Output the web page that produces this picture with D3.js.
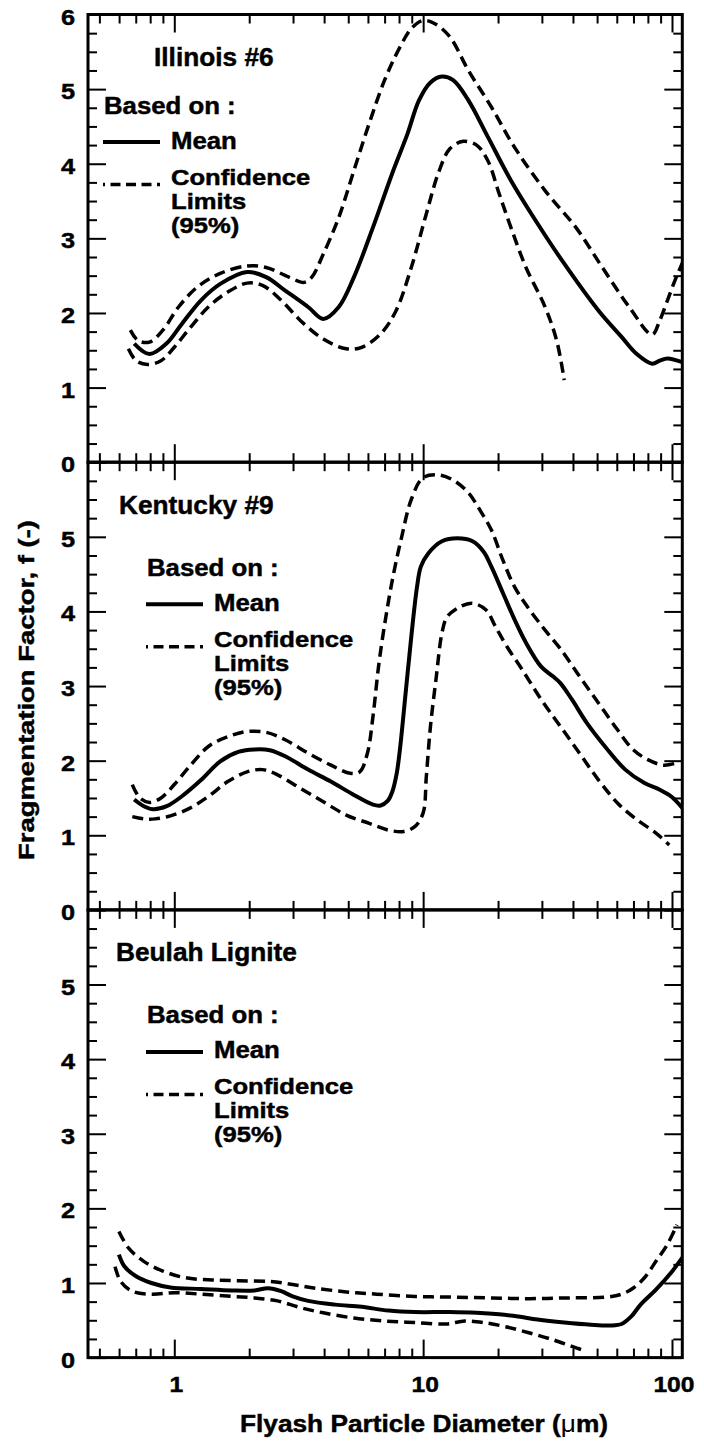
<!DOCTYPE html>
<html>
<head>
<meta charset="utf-8">
<script src="https://cdn.jsdelivr.net/npm/d3@7"></script>
<style>
  html, body { margin: 0; padding: 0; background: #fff; }
  svg { display: block; }
  text { font-family: "Liberation Sans", Arial, Helvetica, sans-serif; font-weight: bold;
         fill: #000; stroke: #000; stroke-width: 0.45px; }
</style>
</head>
<body>
<svg id="chart" width="704" height="1443"></svg>
<script>
// ---- Data: fragmentation factor f vs flyash particle diameter (µm) ----
const panelNames = ["Illinois #6", "Kentucky #9", "Beulah Lignite"];

const illinoisMean = [
  [0.69,1.59],[0.795,1.45],[0.93,1.59],[1.07,1.85],[1.28,2.17],[1.53,2.39],[1.96,2.55],[2.34,2.48],
  [2.79,2.30],[3.45,2.08],[3.97,1.92],[4.58,2.08],[5.27,2.48],[6.29,3.15],[7.51,3.87],[8.65,4.40],
  [9.62,4.85],[10.7,5.09],[11.9,5.17],[13.2,5.12],[15.2,4.85],[18.2,4.36],[22.5,3.78],[27.8,3.28],
  [36.9,2.66],[50.7,2.03],[62.7,1.68],[72.2,1.45],[83.2,1.32],[89.3,1.36],[95.9,1.39],[110,1.34]
];
const illinoisUpper = [
  [0.666,1.77],[0.715,1.63],[0.795,1.61],[0.90,1.77],[1.04,2.08],[1.24,2.35],[1.53,2.53],[1.96,2.63],
  [2.34,2.61],[2.89,2.48],[3.33,2.41],[3.57,2.48],[3.97,2.79],[4.58,3.28],[5.27,3.91],[6.07,4.54],
  [7.0,5.12],[8.06,5.56],[8.96,5.81],[9.97,5.92],[11.1,5.88],[12.8,5.70],[15.2,5.25],[18.8,4.76],
  [23.3,4.22],[30.9,3.64],[41.0,3.15],[52.5,2.61],[67.3,2.08],[83.2,1.71],[89.3,1.90],[95.9,2.17],
  [102.9,2.44],[110.4,2.68]
];
const illinoisLower = [
  [0.654,1.52],[0.702,1.36],[0.781,1.31],[0.884,1.36],[1.0,1.54],[1.15,1.79],[1.37,2.08],[1.64,2.28],
  [1.96,2.40],[2.26,2.37],[2.69,2.17],[3.21,1.90],[3.97,1.65],[4.91,1.52],[5.66,1.54],[6.75,1.72],
  [7.78,2.03],[8.96,2.61],[10.3,3.33],[11.5,3.87],[12.8,4.20],[14.5,4.30],[16.4,4.25],[18.2,4.04],
  [20.2,3.60],[22.5,3.15],[25.9,2.61],[30.9,2.08],[34.4,1.63],[36.9,1.10]
];

const kentuckyMean = [
  [0.69,1.48],[0.754,1.39],[0.823,1.35],[0.932,1.39],[1.07,1.52],[1.28,1.74],[1.53,1.99],[1.82,2.12],
  [2.10,2.15],[2.42,2.14],[2.79,2.06],[3.45,1.88],[4.26,1.72],[5.27,1.54],[6.29,1.41],[6.75,1.40],
  [7.2,1.46],[7.51,1.58],[7.83,1.83],[8.06,2.14],[8.5,2.90],[8.96,3.66],[9.45,4.33],[9.79,4.60],
  [10.5,4.78],[11.9,4.94],[13.7,4.98],[15.8,4.94],[17.5,4.80],[18.8,4.60],[20.9,4.25],[23.3,3.89],
  [25.9,3.58],[29.8,3.26],[33.2,3.13],[35.6,3.04],[39.6,2.82],[45.6,2.50],[54.4,2.17],[64.9,1.88],
  [77.5,1.70],[89.3,1.61],[99.3,1.52],[110.4,1.36]
];
const kentuckyUpper = [
  [0.678,1.68],[0.727,1.50],[0.795,1.44],[0.884,1.50],[1.0,1.68],[1.15,1.92],[1.37,2.19],[1.64,2.32],
  [1.96,2.39],[2.34,2.38],[2.79,2.28],[3.45,2.10],[4.26,1.94],[5.09,1.83],[5.56,1.85],[5.97,2.10],
  [6.29,2.60],[6.64,3.30],[7.1,3.95],[7.6,4.50],[8.2,5.00],[8.96,5.50],[9.97,5.79],
  [11.5,5.83],[13.2,5.76],[15.2,5.59],[16.9,5.36],[18.8,5.09],[20.9,4.69],[23.3,4.33],[26.8,4.02],
  [30.9,3.75],[35.6,3.50],[42.5,3.13],[50.7,2.77],[60.5,2.41],[69.7,2.15],[80.3,2.01],[92.5,1.94],
  [104.7,1.97]
];
const kentuckyLower = [
  [0.678,1.25],[0.754,1.22],[0.838,1.22],[0.965,1.26],[1.15,1.36],[1.37,1.52],[1.64,1.72],[1.96,1.85],
  [2.26,1.88],[2.60,1.81],[3.21,1.63],[3.97,1.45],[4.91,1.27],[6.07,1.16],[7.25,1.07],[8.35,1.05],
  [9.28,1.12],[10.0,1.30],[10.3,1.79],[10.7,2.46],[11.3,3.13],[11.9,3.71],[12.5,3.93],[14.2,4.07],
  [15.8,4.11],[17.9,4.02],[19.5,3.80],[21.7,3.53],[25.0,3.22],[29.8,2.82],[35.6,2.46],[42.5,2.10],
  [50.7,1.74],[60.5,1.43],[72.2,1.21],[86.2,1.03],[97.5,0.87]
];

const beulahMean = [
  [0.599,1.38],[0.631,1.22],[0.702,1.09],[0.809,1.00],[0.965,0.94],[1.28,0.92],[1.70,0.90],[2.10,0.90],
  [2.38,0.93],[2.69,0.89],[2.99,0.82],[3.45,0.76],[4.42,0.71],[5.66,0.68],[7.25,0.63],[9.28,0.61],
  [12.8,0.61],[16.4,0.60],[20.2,0.58],[24.1,0.55],[28.8,0.51],[36.9,0.47],[47.2,0.44],[56.4,0.43],
  [62.7,0.45],[68.5,0.55],[74.8,0.71],[86.2,0.91],[99.3,1.14],[110,1.34]
];
const beulahUpper = [
  [0.599,1.69],[0.654,1.47],[0.754,1.29],[0.899,1.16],[1.11,1.07],[1.42,1.04],[1.82,1.03],[2.42,1.02],
  [2.99,0.98],[3.70,0.93],[4.91,0.88],[6.52,0.85],[9.28,0.82],[13.2,0.81],[18.8,0.80],[26.8,0.79],
  [38.2,0.80],[54.4,0.81],[62.7,0.85],[69.7,0.93],[77.5,1.07],[86.2,1.29],[95.9,1.52],[104.7,1.78]
];
const beulahLower = [
  [0.578,1.22],[0.609,1.02],[0.678,0.89],[0.809,0.85],[1.0,0.87],[1.28,0.85],[1.70,0.82],[2.10,0.80],
  [2.60,0.76],[3.21,0.67],[3.97,0.60],[5.27,0.53],[7.0,0.49],[9.28,0.47],[12.3,0.45],[14.7,0.49],
  [17.5,0.47],[21.7,0.41],[26.8,0.33],[33.2,0.24],[39.6,0.15],[44.8,0.09]
];

const seriesByPanel = [
  { mean: illinoisMean, upper: illinoisUpper, lower: illinoisLower },
  { mean: kentuckyMean, upper: kentuckyUpper, lower: kentuckyLower },
  { mean: beulahMean,   upper: beulahUpper,   lower: beulahLower }
];

// Axis ticks
const xMajorTicks = [1, 10, 100];
const xMinorTicks = [0.5,0.6,0.7,0.8,0.9, 2,3,4,5,6,7,8,9, 20,30,40,50,60,70,80,90];
const xTickLabels = ["1", "10", "100"];
const yMajorTicks = [0, 1, 2, 3, 4, 5, 6];
const yMinorTicks = d3.range(0, 6, 0.25).filter(v => v % 1 !== 0);
const yLabelsTop = [0, 1, 2, 3, 4, 5, 6];
const yLabelsOther = [0, 1, 2, 3, 4, 5];

const legendLines = ["Confidence", "Limits", "(95%)"];

// ---- Layout ----
const plotLeft = 88, plotRight = 682.3, plotTop = 14.5, panelH = 447.7;
const svg = d3.select("#chart");

const x = d3.scaleLog().domain([0.45, 110]).range([plotLeft, plotRight]);

// per-panel title / legend placement (px offsets from panel top)
const panelLayout = [
  { tx: 154, tBase: 51,   lx: 103, by: 99 },
  { tx: 119, tBase: 52,   lx: 146, by: 113.5 },
  { tx: 116, tBase: 51.5, lx: 146, by: 113.5 }
];

// horizontal widening of the bold face, as in the printed figure
function widen(sel, k) {
  sel.each(function () {
    const w = this.getComputedTextLength();
    d3.select(this).attr("textLength", w * k).attr("lengthAdjust", "spacingAndGlyphs");
  });
}

const line = d3.line().curve(d3.curveCatmullRom.alpha(0.5));

panelNames.forEach((name, i) => {
  const py = plotTop + i * panelH;
  const y = d3.scaleLinear().domain([0, 6]).range([py + panelH, py]);
  const g = svg.append("g");

  // clip for the curves
  const clipId = "clip" + i;
  svg.append("clipPath").attr("id", clipId)
    .append("rect").attr("x", plotLeft).attr("y", py)
    .attr("width", plotRight - plotLeft).attr("height", panelH);

  // inward ticks on all four sides
  const tickGroups = [
    [d3.axisTop(x), `translate(0,${py})`, xMajorTicks, xMinorTicks],
    [d3.axisBottom(x), `translate(0,${py + panelH})`, xMajorTicks, xMinorTicks],
    [d3.axisLeft(y), `translate(${plotLeft},0)`, yMajorTicks, yMinorTicks],
    [d3.axisRight(y), `translate(${plotRight},0)`, yMajorTicks, yMinorTicks]
  ];
  tickGroups.forEach(([axisFn, tr, major, minor]) => {
    [[major, -18], [minor, -9]].forEach(([vals, size]) => {
      const ax = axisFn.tickValues(vals).tickSizeInner(size).tickSizeOuter(0).tickFormat("");
      const ag = g.append("g").attr("transform", tr).call(ax);
      ag.select(".domain").remove();
      ag.selectAll(".tick line").attr("stroke", "#000").attr("stroke-width", 2);
    });
  });

  // frame
  g.append("rect")
    .attr("x", plotLeft).attr("y", py).attr("width", plotRight - plotLeft).attr("height", panelH)
    .attr("fill", "none").attr("stroke", "#000").attr("stroke-width", 3);

  // y tick labels
  const yl = g.selectAll(".ylab").data(i === 0 ? yLabelsTop : yLabelsOther).enter().append("text")
    .attr("class", "ylab")
    .attr("x", 75).attr("y", d => y(d) + 10)
    .attr("text-anchor", "end").attr("font-size", 22)
    .text(d => d);
  widen(yl, 1.15);

  // curves
  const s = seriesByPanel[i];
  const toPx = pts => pts.map(p => [x(p[0]), y(p[1])]);
  const cg = g.append("g").attr("clip-path", `url(#${clipId})`);
  [s.upper, s.lower].forEach(pts => {
    cg.append("path").attr("d", line(toPx(pts)))
      .attr("fill", "none").attr("stroke", "#000").attr("stroke-width", 3.5)
      .attr("stroke-dasharray", "11,6").attr("stroke-linecap", "butt");
  });
  cg.append("path").attr("d", line(toPx(s.mean)))
    .attr("fill", "none").attr("stroke", "#000").attr("stroke-width", 4)
    .attr("stroke-linejoin", "round");

  // panel title and legend
  const L = panelLayout[i];
  const title = g.append("text").attr("x", L.tx).attr("y", py + L.tBase)
    .attr("font-size", 25).text(name);
  widen(title, 1.05);

  const based = g.append("text").attr("x", L.lx + 1).attr("y", py + L.by)
    .attr("font-size", 23).text("Based on :");
  widen(based, 1.12);

  g.append("line")
    .attr("x1", L.lx).attr("x2", L.lx + 57)
    .attr("y1", py + L.by + 28.5).attr("y2", py + L.by + 28.5)
    .attr("stroke", "#000").attr("stroke-width", 4);
  const meanTxt = g.append("text").attr("x", L.lx + 68).attr("y", py + L.by + 35)
    .attr("font-size", 23).text("Mean");
  widen(meanTxt, 1.12);

  g.append("line")
    .attr("x1", L.lx).attr("x2", L.lx + 57)
    .attr("y1", py + L.by + 71).attr("y2", py + L.by + 71)
    .attr("stroke", "#000").attr("stroke-width", 3.5)
    .attr("stroke-dasharray", "10,5.5").attr("stroke-dashoffset", 8);
  const conf = g.selectAll(".conf").data(legendLines).enter().append("text")
    .attr("class", "conf")
    .attr("x", L.lx + 68).attr("y", (d, k) => py + L.by + 71 + k * 24)
    .attr("font-size", 21.5).text(d => d);
  widen(conf, 1.19);
});

// x tick labels under the bottom panel
const xl = svg.selectAll(".xlab").data(xMajorTicks).enter().append("text")
  .attr("class", "xlab")
  .attr("x", d => x(d) + 2).attr("y", 1391.5)
  .attr("text-anchor", "middle").attr("font-size", 22)
  .text((d, k) => xTickLabels[k]);
widen(xl, 1.12);

// axis titles
const xt = svg.append("text").attr("x", 424).attr("y", 1432)
  .attr("text-anchor", "middle").attr("font-size", 23)
  .attr("textLength", 368).attr("lengthAdjust", "spacingAndGlyphs");
xt.append("tspan").text("Flyash Particle Diameter (");
xt.append("tspan").attr("font-weight", "normal").attr("stroke-width", 0).text("\u03bc");
xt.append("tspan").text("m)");

svg.append("text")
  .attr("transform", "translate(34,690) rotate(-90)")
  .attr("text-anchor", "middle").attr("font-size", 22)
  .attr("textLength", 340).attr("lengthAdjust", "spacingAndGlyphs")
  .text("Fragmentation Factor, f (-)");
</script>
</body>
</html>
